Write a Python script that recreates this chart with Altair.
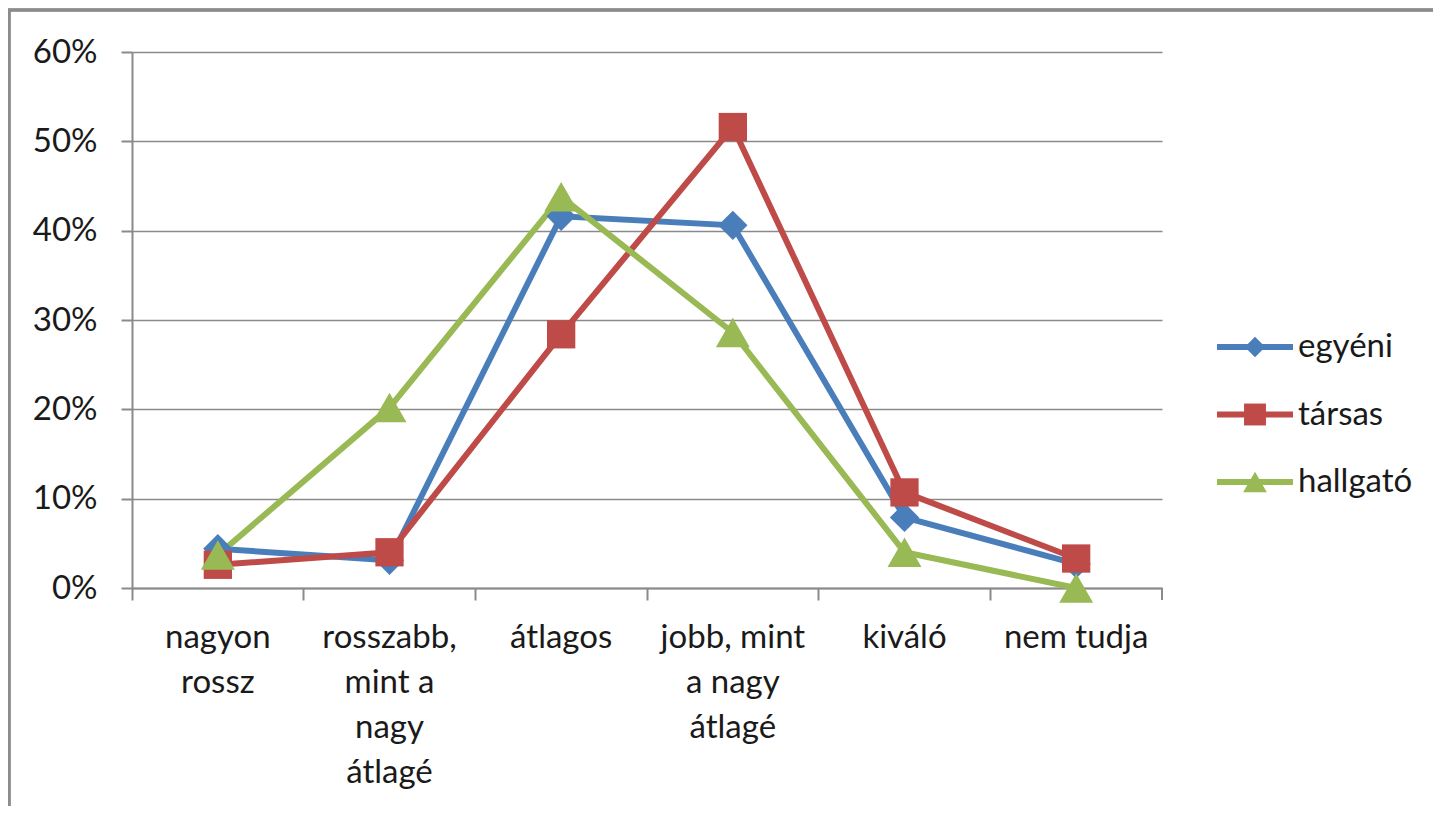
import altair as alt
import pandas as pd

categories = ["nagyon\nrossz", "rosszabb,\nmint a\nnagy\nátlagé", "átlagos",
              "jobb, mint\na nagy\nátlagé", "kiváló", "nem tudja"]
series = ["egyéni", "társas", "hallgató"]
egyeni = [0.044, 0.031, 0.416, 0.406, 0.079, 0.027]
tarsas = [0.026, 0.040, 0.284, 0.516, 0.107, 0.033]
hallgato = [0.037, 0.202, 0.438, 0.286, 0.040, 0.0]
y_ticks = [0, 0.1, 0.2, 0.3, 0.4, 0.5, 0.6]
colors = ["#4A7EBB", "#BE4B48", "#98B954"]
shapes = ["diamond", "square", "triangle-up"]
marker_sizes = [860, 800, 1150]
legend_marker_sizes = [420, 480, 560]

rows = []
for s, vals in zip(series, [egyeni, tarsas, hallgato]):
    for c, v in zip(categories, vals):
        rows.append({"cat": c, "series": s, "value": v})
df = pd.DataFrame(rows)
leg_df = pd.DataFrame({"series": series})

FONT = "Lato"
W, H = 1030, 536
GRAY = "#8a8a8a"

color = alt.Color("series:N", scale=alt.Scale(domain=series, range=colors), legend=None)

x = alt.X("cat:N", sort=categories, title=None,
          scale=alt.Scale(type="band", paddingInner=0, paddingOuter=0),
          axis=alt.Axis(bandPosition=0, labelAngle=0, labelExpr="split(datum.label, '\\n')",
                        labelFont=FONT, labelFontSize=33, labelLineHeight=45,
                        labelColor="#1a1a1a", labelPadding=21, tickSize=12,
                        tickColor=GRAY, tickWidth=2, domainColor=GRAY, domainWidth=2,
                        grid=False, labelBaseline="top"))
y = alt.Y("value:Q", title=None,
          scale=alt.Scale(domain=[0, 0.6], nice=False, zero=True),
          axis=alt.Axis(values=y_ticks, format=".0%", labelFont=FONT, labelFontSize=33,
                        labelColor="#1a1a1a", labelPadding=24, tickSize=11,
                        tickColor=GRAY, tickWidth=2, domainColor=GRAY, domainWidth=2,
                        grid=True, gridColor=GRAY, gridWidth=1.5))
y_noaxis = alt.Y("value:Q", scale=alt.Scale(domain=[0, 0.6], nice=False, zero=True))

base = alt.Chart(df)
lines = base.mark_line(strokeWidth=6).encode(x=x, y=y, color=color, detail="series:N")
series_layers = [lines]
for s, shp, sz in zip(series, shapes, marker_sizes):
    series_layers.append(
        base.transform_filter(alt.datum.series == s)
        .mark_point(filled=True, opacity=1, shape=shp, size=sz)
        .encode(x=x, y=y_noaxis, color=color)
    )
data_layer = alt.layer(*series_layers)

# last category-boundary tick at the right end of the x axis
end_tick = alt.Chart(leg_df).mark_rule(color=GRAY, strokeWidth=2).encode(
    x=alt.value(W), y=alt.value(H), y2=alt.value(H + 12))

# chart frame (left and top edges)
frame_left = alt.Chart(leg_df).mark_rule(color="#8c8c8c", strokeWidth=3).encode(
    x=alt.value(-123), y=alt.value(-42), y2=alt.value(H + 230))
frame_top = alt.Chart(leg_df).mark_rule(color="#8c8c8c", strokeWidth=3).encode(
    x=alt.value(-124), x2=alt.value(W + 275), y=alt.value(-42))

# legend
ly = alt.Y("series:N", sort=series, title=None, axis=None,
           scale=alt.Scale(type="point", domain=series, range=[295, 430], padding=0))
lbase = alt.Chart(leg_df)
legend_layers = [lbase.mark_rule(strokeWidth=6).encode(
    x=alt.value(1085), x2=alt.value(1161), y=ly, color=color)]
for s, shp, sz in zip(series, shapes, legend_marker_sizes):
    legend_layers.append(
        lbase.transform_filter(alt.datum.series == s)
        .mark_point(filled=True, opacity=1, shape=shp, size=sz)
        .encode(x=alt.value(1123), y=ly, color=color)
    )
legend_layers.append(lbase.mark_text(align="left", baseline="middle", font=FONT, fontSize=33,
                                     color="#1a1a1a").encode(
    x=alt.value(1166), y=ly, text="series:N"))
legend_layer = alt.layer(*legend_layers)

chart = alt.layer(frame_left, frame_top, data_layer, end_tick, legend_layer).resolve_scale(
    y="independent"
).properties(
    width=W, height=H,
    autosize=alt.AutoSizeParams(type="none"),
    padding={"left": 124, "top": 44, "right": 271, "bottom": 218},
    background="white",
).configure_view(stroke=None)

chart.save("out.html", embed_options={"renderer": "svg", "actions": False})
